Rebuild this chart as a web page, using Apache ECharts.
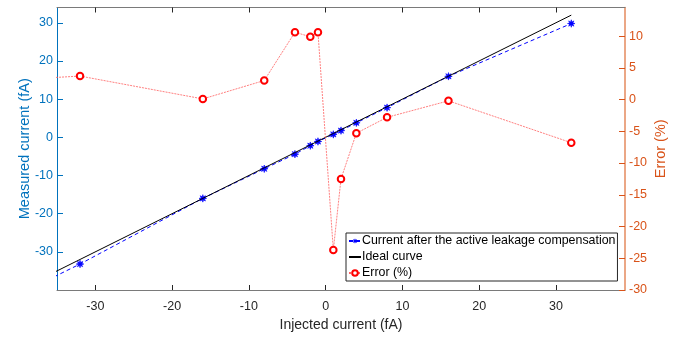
<!DOCTYPE html>
<html>
<head>
<meta charset="utf-8">
<script src="https://cdn.jsdelivr.net/npm/echarts@6/dist/echarts.min.js"></script>
<style>html,body{margin:0;padding:0;background:#fff}#c{width:683px;height:337px}</style>
</head>
<body>
<div id="c"></div>
<script>
// Injected current (fA)
const injected = [-64, -32, -16, -8, -4, -2, -1, 1, 2, 4, 8, 16, 32];
// Current after the active leakage compensation (fA)
const measured = [-64.96, -33.2, -16.0, -8.24, -4.42, -2.2, -1.1, 0.76, 1.75, 3.79, 7.77, 15.97, 29.8];
// Ideal curve (fA)
const ideal = [-64, -32, -16, -8, -4, -2, -1, 1, 2, 4, 8, 16, 32];
// Error (%)
const errorPct = [1.5, 3.7, 0.1, 3.0, 10.6, 9.9, 10.6, -23.7, -12.5, -5.3, -2.8, -0.2, -6.8];

const xTicks = [-30, -20, -10, 0, 10, 20, 30];
const leftTicks = [-30, -20, -10, 0, 10, 20, 30];
const rightTicks = [-30, -25, -20, -15, -10, -5, 0, 5, 10];

const FONT = '"Liberation Sans", Arial, Helvetica, sans-serif';
const BLUE = '#0072BD';
const ORANGE = '#D95319';
const GREY = '#7a7a7a';

const pairs = (xs, ys) => xs.map((x, i) => [x, ys[i]]);
const star = 'path://M1,0 L0.42,0.17 L0.707,0.707 L0.17,0.42 L0,1 L-0.17,0.42 L-0.707,0.707 L-0.42,0.17 L-1,0 L-0.42,-0.17 L-0.707,-0.707 L-0.17,-0.42 L0,-1 L0.17,-0.42 L0.707,-0.707 L0.42,-0.17 Z';

const chart = echarts.init(document.getElementById('c'), null, {renderer: 'canvas'});
chart.setOption({
  animation: false,
  backgroundColor: '#fff',
  textStyle: {fontFamily: FONT},
  grid: {left: 57, right: 58, top: 7.5, bottom: 46.5, containLabel: false},
  legend: {
    orient: 'vertical',
    left: 346, top: 233,
    padding: [2, 2, 2, 2],
    itemWidth: 12, itemHeight: 7, itemGap: 4,
    borderColor: '#262626', borderWidth: 1,
    backgroundColor: '#fff',
    textStyle: {fontFamily: FONT, fontSize: 12.4, color: '#000', padding: [0, 0, 0, -4]},
    data: [
      {name: 'Current after the active leakage compensation', itemStyle: {borderWidth: 0}},
      {name: 'Ideal curve', itemStyle: {opacity: 0}},
      {name: 'Error (%)'}
    ]
  },
  xAxis: [{
    type: 'value', min: -35, max: 39, position: 'bottom',
    name: 'Injected current (fA)', nameLocation: 'middle', nameGap: 28, nameMoveOverlap: false,
    nameTextStyle: {fontFamily: FONT, fontSize: 14, color: '#262626'},
    axisLine: {show: true, onZero: false, lineStyle: {color: GREY, width: 1}},
    axisTick: {show: true, inside: true, length: 5, customValues: xTicks, lineStyle: {color: '#262626'}},
    axisLabel: {customValues: xTicks, margin: 10, fontFamily: FONT, fontSize: 12.5, color: '#262626'},
    splitLine: {show: false}
  }, {
    type: 'value', min: -35, max: 39, position: 'top',
    axisLine: {show: true, onZero: false, lineStyle: {color: GREY, width: 1}},
    axisTick: {show: true, inside: true, length: 5, customValues: xTicks, lineStyle: {color: '#262626'}},
    axisLabel: {show: false},
    splitLine: {show: false}
  }],
  yAxis: [{
    type: 'value', min: -40, max: 34, position: 'left',
    name: 'Measured current (fA)', nameLocation: 'middle', nameGap: 25, nameRotate: 90, nameMoveOverlap: false,
    nameTextStyle: {fontFamily: FONT, fontSize: 14.5, color: BLUE},
    axisLine: {show: true, onZero: false, lineStyle: {color: BLUE, width: 1}},
    axisTick: {show: true, inside: true, length: 6, customValues: leftTicks, lineStyle: {color: BLUE}},
    axisLabel: {customValues: leftTicks, margin: 4, fontFamily: FONT, fontSize: 12.5, color: BLUE},
    splitLine: {show: false}
  }, {
    type: 'value', min: -30, max: 14.5, position: 'right',
    name: 'Error (%)', nameLocation: 'middle', nameGap: 28, nameRotate: 90, nameMoveOverlap: false,
    nameTextStyle: {fontFamily: FONT, fontSize: 14.5, color: ORANGE},
    axisLine: {show: true, onZero: false, lineStyle: {color: '#E58A5E', width: 1.5}},
    axisTick: {show: true, inside: true, length: 6, customValues: rightTicks, lineStyle: {color: ORANGE}},
    axisLabel: {customValues: rightTicks, margin: 4, fontFamily: FONT, fontSize: 12.5, color: ORANGE},
    splitLine: {show: false}
  }],
  series: [{
    name: 'Current after the active leakage compensation',
    type: 'line', xAxisIndex: 0, yAxisIndex: 0,
    data: pairs(injected, measured),
    symbol: star, symbolSize: 7.5, showAllSymbol: true,
    itemStyle: {color: '#0000FF', borderColor: '#0000FF', borderWidth: 0.6},
    lineStyle: {color: '#0000FF', width: 1, type: [4, 3]},
    z: 2
  }, {
    name: 'Ideal curve',
    type: 'line', xAxisIndex: 0, yAxisIndex: 0,
    data: pairs(injected, ideal),
    symbol: 'none',
    itemStyle: {color: '#000'},
    lineStyle: {color: '#000', width: 1},
    z: 3
  }, {
    name: 'Error (%)',
    type: 'line', xAxisIndex: 0, yAxisIndex: 1,
    data: pairs(injected, errorPct),
    symbol: 'emptyCircle', symbolSize: 6.5, showAllSymbol: true,
    itemStyle: {color: '#FF0000', borderWidth: 0.7},
    lineStyle: {color: '#FF6060', width: 0.8, type: [2, 1]},
    z: 4
  }]
});
</script>
</body>
</html>
